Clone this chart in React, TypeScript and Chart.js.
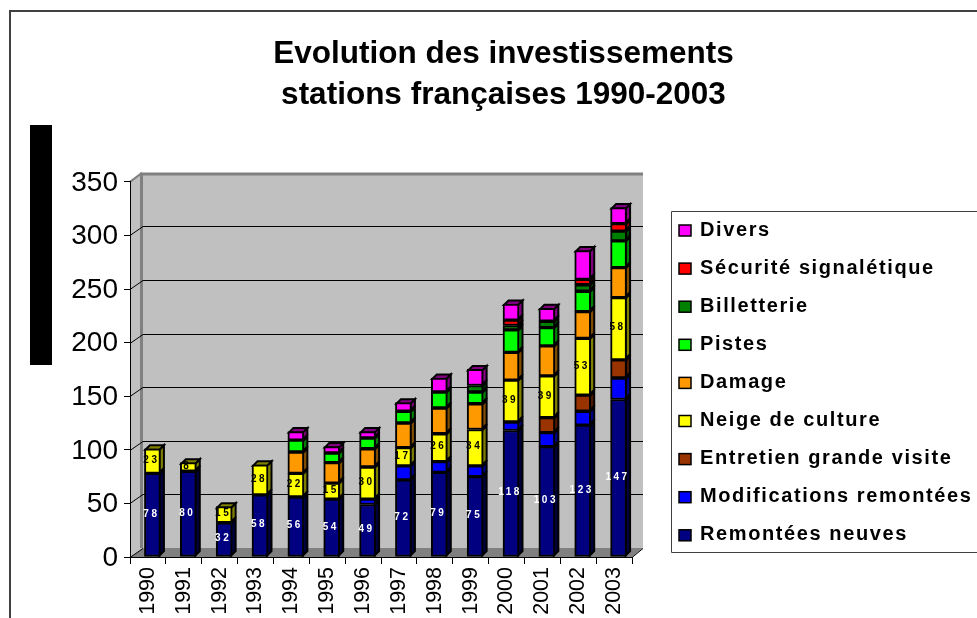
import React, { useEffect, useRef } from "react";
import { Chart, registerables } from "chart.js";

Chart.register(...registerables);

const years = ["1990","1991","1992","1993","1994","1995","1996","1997","1998","1999","2000","2001","2002","2003"];
const remonteesNeuves = [78,80,32,58,56,54,49,72,79,75,118,103,123,147];
const modifications = [null,null,null,null,null,null,5,13,10,10,8,13,13,20];
const entretien = [null,null,null,null,null,null,null,null,null,null,null,14,15,17];
const neige = [23,8,15,28,22,15,30,17,26,34,39,39,53,58];
const damage = [null,null,null,null,20,19,17,23,24,24,26,28,25,28];
const pistes = [null,null,null,null,11,9,10,11,15,11,21,17,19,25];
const billetterie = [null,null,null,null,null,null,null,null,null,6,4,6,6,9];
const securite = [null,null,null,null,null,null,null,null,null,null,5,null,5,7];
const divers = [null,null,null,null,8,6,6,8,13,15,15,12,27,15];
const titleLines = ["Evolution des investissements", "stations françaises 1990-2003"];
const yTicks = { min: 0, max: 350, step: 50 };

const series = [
  { label: "Remontées neuves", data: remonteesNeuves, color: "#000080", side: "#00003c" },
  { label: "Modifications remontées", data: modifications, color: "#0000ff", side: "#000080" },
  { label: "Entretien grande visite", data: entretien, color: "#993300", side: "#4c1900" },
  { label: "Neige de culture", data: neige, color: "#ffff00", side: "#808000" },
  { label: "Damage", data: damage, color: "#ff9900", side: "#804c00" },
  { label: "Pistes", data: pistes, color: "#00ff00", side: "#008000" },
  { label: "Billetterie", data: billetterie, color: "#008000", side: "#004000" },
  { label: "Sécurité signalétique", data: securite, color: "#ff0000", side: "#800000" },
  { label: "Divers", data: divers, color: "#ff00ff", side: "#800080" },
];

const FONT = '"Liberation Sans", Arial, sans-serif';
const BAR_SHIFT = 4.5;
const BAR_D = 4.5;
const WALL_DX = 13;
const WALL_DX_R = 11;
const WALL_DY = -9;

const poly = (ctx: any, pts: number[][], fill: string, stroke?: string, lw = 1) => {
  ctx.beginPath();
  pts.forEach((p, i) => (i ? ctx.lineTo(p[0], p[1]) : ctx.moveTo(p[0], p[1])));
  ctx.closePath();
  ctx.fillStyle = fill;
  ctx.fill();
  if (stroke) {
    ctx.strokeStyle = stroke;
    ctx.lineWidth = lw;
    ctx.stroke();
  }
};

const decor = {
  id: "decor",
  beforeDraw(chart: any) {
    const { ctx, chartArea: a, scales } = chart;
    const y = scales.y;
    ctx.save();
    ctx.fillStyle = "#fff";
    ctx.fillRect(0, 0, 977, 618);
    ctx.strokeStyle = "#404040";
    ctx.lineWidth = 2;
    ctx.beginPath();
    ctx.moveTo(10, 618);
    ctx.lineTo(10, 11);
    ctx.lineTo(977, 11);
    ctx.stroke();
    ctx.fillStyle = "#000";
    ctx.fillRect(30, 125, 22, 240);
    const l = a.left, r = a.right, t = a.top, b = a.bottom;
    const dx = WALL_DX, dy = WALL_DY, rx = r + WALL_DX_R;
    poly(ctx, [[l, t], [l + dx, t + dy], [l + dx, b + dy], [l, b]], "#c0c0c0");
    poly(ctx, [[l + dx, t + dy], [rx, t + dy], [rx, b + dy], [l + dx, b + dy]], "#c0c0c0");
    poly(ctx, [[l, b], [l + dx, b + dy], [rx, b + dy], [r, b]], "#808080");
    ctx.strokeStyle = "#808080";
    ctx.lineWidth = 3;
    ctx.beginPath();
    ctx.moveTo(l + dx - 1.5, b + dy);
    ctx.lineTo(l + dx - 1.5, t + dy + 1);
    ctx.lineTo(rx, t + dy + 1);
    ctx.stroke();
    ctx.lineWidth = 2;
    ctx.beginPath();
    ctx.moveTo(l, t);
    ctx.lineTo(l + dx - 1, t + dy);
    ctx.stroke();
    ctx.strokeStyle = "#000";
    ctx.lineWidth = 1;
    ctx.beginPath();
    y.ticks.forEach((tk: any) => {
      const py = Math.round(y.getPixelForValue(tk.value)) + 0.5;
      if (tk.value === yTicks.max) return;
      ctx.moveTo(l, py);
      ctx.lineTo(l + dx, py + dy);
      if (tk.value !== yTicks.min) ctx.lineTo(rx, py + dy);
    });
    ctx.moveTo(r, b + 0.5);
    ctx.lineTo(rx, b + dy + 0.5);
    ctx.stroke();
    ctx.restore();
  },
  beforeDatasetsDraw(chart: any) {
    const { ctx } = chart;
    ctx.save();
    ctx.translate(BAR_SHIFT, 0);
    const n = years.length;
    for (let c = 0; c < n; c++) {
      let top = -1;
      chart.data.datasets.forEach((d: any, i: number) => {
        if (d.data[c] != null) top = i;
      });
      chart.data.datasets.forEach((d: any, i: number) => {
        if (d.data[c] == null) return;
        const el = chart.getDatasetMeta(i).data[c];
        const rx = el.x + el.width / 2 - 1;
        const lx = el.x - el.width / 2 + 1;
        const ty = el.y + 1;
        const by = el.base - 1;
        poly(ctx, [[rx, ty], [rx + BAR_D, ty - BAR_D], [rx + BAR_D, by - BAR_D], [rx, by]], series[i].side, "#000", 2);
        if (i === top) {
          poly(ctx, [[lx, ty], [lx + BAR_D, ty - BAR_D], [rx + BAR_D, ty - BAR_D], [rx, ty]], series[i].side, "#000", 2);
        }
      });
    }
  },
  afterDatasetsDraw(chart: any) {
    const { ctx } = chart;
    ctx.textAlign = "center";
    ctx.textBaseline = "middle";
    ctx.font = `bold 10px ${FONT}`;
    (ctx as any).letterSpacing = "2.5px";
    [0, 3].forEach((i) => {
      ctx.fillStyle = i === 0 ? "#ffffff" : "#000000";
      chart.getDatasetMeta(i).data.forEach((el: any, c: number) => {
        ctx.fillText(String(series[i].data[c]), el.x - 1, (el.y + el.base) / 2 - 1);
      });
    });
    (ctx as any).letterSpacing = "0px";
    ctx.restore();

    ctx.save();
    ctx.strokeStyle = "#404040";
    ctx.lineWidth = 1;
    ctx.beginPath();
    ctx.moveTo(977, 211.5);
    ctx.lineTo(671.5, 211.5);
    ctx.lineTo(671.5, 552.5);
    ctx.lineTo(977, 552.5);
    ctx.stroke();
    ctx.font = `bold 20px ${FONT}`;
    (ctx as any).letterSpacing = "1.6px";
    ctx.textAlign = "left";
    ctx.textBaseline = "middle";
    [...series].reverse().forEach((s, k) => {
      const cy = 230 + k * 38.1;
      ctx.fillStyle = s.color;
      ctx.strokeStyle = "#000";
      ctx.lineWidth = 1.5;
      ctx.fillRect(679, cy - 5, 12, 11);
      ctx.strokeRect(679, cy - 5, 12, 11);
      ctx.fillStyle = "#000";
      ctx.fillText(s.label, 700, cy);
    });
    ctx.restore();
  },
};

export default function App() {
  const ref = useRef<HTMLCanvasElement>(null);
  useEffect(() => {
    const chart = new Chart(ref.current as HTMLCanvasElement, {
      type: "bar",
      data: {
        labels: years,
        datasets: series.map((s) => ({
          label: s.label,
          data: s.data,
          backgroundColor: s.color,
          borderColor: "#000",
          borderWidth: 2,
          borderSkipped: false,
          barThickness: 16,
        })),
      } as any,
      options: {
        animation: false,
        responsive: false,
        layout: { padding: { left: 30, right: 0, top: 0, bottom: 0 } },
        plugins: {
          legend: { display: false },
          tooltip: { enabled: false },
          title: {
            display: true,
            text: titleLines,
            color: "#000",
            font: { family: FONT, size: 31.5, weight: "bold", lineHeight: 1.3 },
            padding: { top: 33.5, bottom: 66.5 },
          },
        },
        scales: {
          x: {
            stacked: true,
            grid: { drawOnChartArea: false, color: "#000", tickLength: 7, offset: true },
            border: { color: "#000", width: 1 },
            ticks: {
              color: "#000",
              font: { family: FONT, size: 21.5 },
              minRotation: 90,
              maxRotation: 90,
              padding: 3,
              autoSkip: false,
            },
            afterFit(s: any) { s.height = 61; },
          },
          y: {
            stacked: true,
            min: yTicks.min,
            max: yTicks.max,
            grid: { drawOnChartArea: false, color: "#000", tickLength: 6 },
            border: { color: "#000", width: 1 },
            ticks: { color: "#000", stepSize: yTicks.step, font: { family: FONT, size: 28 }, padding: 6, labelOffset: 1 },
            afterFit(s: any) { s.width = 100; },
          },
          legendGap: {
            type: "linear",
            position: "right",
            display: true,
            grid: { display: false },
            border: { display: false },
            ticks: { display: false },
            afterFit(s: any) { s.width = 345; },
          },
        },
      } as any,
      plugins: [decor],
    });
    return () => chart.destroy();
  }, []);
  return (
    <canvas
      ref={ref}
      width={977}
      height={618}
      style={{ position: "absolute", left: 0, top: 0, display: "block" }}
    />
  );
}
